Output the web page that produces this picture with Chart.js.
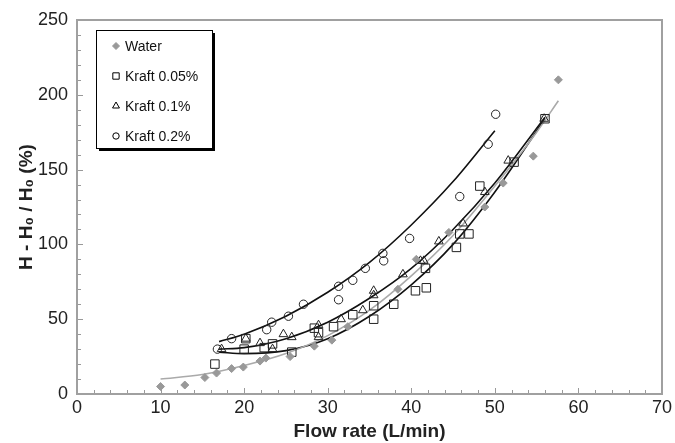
<!DOCTYPE html>
<html>
<head>
<meta charset="utf-8">
<script src="https://cdn.jsdelivr.net/npm/chart.js@4.4.0/dist/chart.umd.min.js"></script>
<style>
body{margin:0;background:#fff}
canvas{display:block}
</style>
</head>
<body>
<canvas id="myChart" width="675" height="443"></canvas>
<script>
// measured points
const flowWater = [10, 12.9, 15.3, 16.7, 18.5, 19.9, 21.9, 22.6, 25.5, 28.4, 30.5, 32.4, 38.4, 40.6, 44.5, 48.8, 51, 54.6, 57.6]
const headWater = [5, 6, 11, 14, 17, 18, 22, 24, 25, 32, 36, 45, 70, 90, 108, 125, 141, 159, 210]

const flow005 = [16.5, 20, 20.2, 22.4, 23.4, 25.7, 28.4, 28.9, 30.7, 33, 35.5, 35.5, 37.9, 40.5, 41.8, 41.7, 45.4, 45.8, 46.9, 48.2, 52.3, 56]
const head005 = [20, 30, 37, 31, 33.5, 28, 44, 41, 45, 53, 59, 50, 60, 69, 71, 84, 98, 107, 107, 139, 155, 184]

const flow01 = [17.3, 20.2, 21.9, 23.4, 24.7, 25.7, 28.9, 28.9, 31.6, 34.2, 35.5, 35.5, 39, 41.1, 41.5, 43.3, 46.2, 48.8, 51.6, 55.9]
const head01 = [30, 37, 34, 30, 40, 38, 46, 38, 50, 56, 69, 66, 80, 89, 89, 102, 114, 135, 156, 184]

const flow02 = [16.8, 18.5, 22.7, 23.3, 25.3, 27.1, 31.3, 31.3, 33, 34.5, 36.6, 36.7, 39.8, 45.8, 49.2, 50.1]
const head02 = [30, 37, 43, 48, 52, 60, 72, 63, 76, 84, 94, 89, 104, 132, 167, 187]

// trend curves
const trendXWater = [10, 15, 20, 25, 30, 35, 40, 45, 50, 55, 57.6]
const trendYWater = [10, 13, 19, 27, 39, 56, 79, 106, 139, 175, 196]
const trendX005 = [17, 20, 25, 30, 35, 40, 45, 50, 56]
const trendY005 = [28, 27, 29, 37, 52, 73, 100, 135, 184]
const trendX01 = [17, 20, 25, 30, 35, 40, 45, 50, 56]
const trendY01 = [30, 31, 37, 48, 64, 84, 110, 141, 185]
const trendX02 = [17, 20, 25, 30, 35, 40, 45, 50]
const trendY02 = [35, 40, 52, 68, 88, 113, 142, 176]

const legendLabels = ['Water', 'Kraft 0.05%', 'Kraft 0.1%', 'Kraft 0.2%']
const xTicks = [0, 10, 20, 30, 40, 50, 60, 70]
const yTicks = [0, 50, 100, 150, 200, 250]

const pts = (xs, ys) => xs.map((x, i) => ({x: x, y: ys[i]}))

function markerSet(label, xs, ys, style, radius, fill, stroke){
    return {
        type: 'scatter', label: label, data: pts(xs, ys),
        pointStyle: style, pointRadius: radius, pointHoverRadius: radius,
        backgroundColor: fill, borderColor: stroke, borderWidth: 1, order: 1
    }
}
function trendSet(xs, ys, color){
    return {
        type: 'line', data: pts(xs, ys), borderColor: color, borderWidth: 1.6,
        pointRadius: 0, fill: false, cubicInterpolationMode: 'monotone', order: 2
    }
}

// minor ticks, frame, boxed legend
const decor = {
    id: 'decor',
    afterDraw(chart){
        const ctx = chart.ctx, a = chart.chartArea
        const xs = chart.scales.x, ys = chart.scales.y
        ctx.save()
        ctx.strokeStyle = '#999'
        ctx.lineWidth = 1
        for (let v = 2; v < 70; v += 2) {
            const px = Math.round(xs.getPixelForValue(v)) + 0.5
            ctx.beginPath(); ctx.moveTo(px, a.bottom); ctx.lineTo(px, a.bottom - (v % 10 ? 4 : 6)); ctx.stroke()
        }
        for (let v = 10; v < 250; v += 10) {
            const py = Math.round(ys.getPixelForValue(v)) + 0.5
            ctx.beginPath(); ctx.moveTo(a.left, py); ctx.lineTo(a.left + (v % 50 ? 4 : 6), py); ctx.stroke()
        }
        ctx.strokeStyle = '#a0a0a0'
        ctx.lineWidth = 2
        ctx.strokeRect(a.left, a.top, a.right - a.left, a.bottom - a.top)

        // legend box with shadow
        const bx = 96, by = 30, bw = 116, bh = 118
        ctx.fillStyle = '#000'
        ctx.fillRect(bx + 3, by + 3, bw, bh)
        ctx.fillStyle = '#fff'
        ctx.fillRect(bx, by, bw, bh)
        ctx.strokeStyle = '#000'
        ctx.lineWidth = 1
        ctx.strokeRect(bx + 0.5, by + 0.5, bw, bh)
        const styles = [['rectRot', 3.5, '#999', '#999'], ['rect', 4.5, '#fff', '#000'], ['triangle', 4, '#fff', '#000'], ['circle', 3.2, '#fff', '#000']]
        ctx.font = '14px "Liberation Sans", Arial, sans-serif'
        ctx.textBaseline = 'middle'
        legendLabels.forEach((t, i) => {
            const y = 46 + i * 30
            const s = styles[i]
            ctx.fillStyle = s[2]; ctx.strokeStyle = s[3]; ctx.lineWidth = 1
            Chart.helpers.drawPoint(ctx, {pointStyle: s[0], radius: s[1], borderWidth: 1}, 116, y)
            ctx.fillStyle = '#111'
            ctx.fillText(t, 125, y + 1)
        })
        ctx.restore()
    }
}

const tickFont = {family: '"Liberation Sans", Arial, sans-serif', size: 18}
const titleFont = {family: '"Liberation Sans", Arial, sans-serif', size: 19, weight: 'bold'}

chart = new Chart(document.getElementById('myChart'), {
    type: 'scatter',
    data: {
        datasets: [
            markerSet(legendLabels[0], flowWater, headWater, 'rectRot', 4, '#999', '#999'),
            markerSet(legendLabels[1], flow005, head005, 'rect', 6, 'rgba(0,0,0,0)', '#222'),
            markerSet(legendLabels[2], flow01, head01, 'triangle', 5, 'rgba(0,0,0,0)', '#222'),
            markerSet(legendLabels[3], flow02, head02, 'circle', 4.2, 'rgba(0,0,0,0)', '#222'),
            trendSet(trendXWater, trendYWater, '#aaa'),
            trendSet(trendX005, trendY005, '#111'),
            trendSet(trendX01, trendY01, '#111'),
            trendSet(trendX02, trendY02, '#111')
        ]
    },
    options: {
        responsive: false,
        animation: false,
        layout: {padding: {left: 0, right: 13, top: 20, bottom: 0}},
        plugins: {legend: {display: false}, tooltip: {enabled: false}},
        scales: {
            x: {
                type: 'linear', min: 0, max: 70,
                afterBuildTicks: s => { s.ticks = xTicks.map(v => ({value: v})) },
                afterFit: s => { s.height = 49 },
                grid: {display: false, drawTicks: false},
                border: {display: false},
                ticks: {font: tickFont, color: '#222', padding: 3, maxRotation: 0},
                title: {display: true, text: 'Flow rate (L/min)', font: titleFont, color: '#222', padding: {top: 0, bottom: 0}}
            },
            y: {
                type: 'linear', min: 0, max: 250,
                afterBuildTicks: s => { s.ticks = yTicks.map(v => ({value: v})) },
                afterFit: s => { s.width = 77 },
                grid: {display: false, drawTicks: false},
                border: {display: false},
                ticks: {font: tickFont, color: '#222', padding: 9},
                title: {display: true, text: 'H - H\u2080 / H\u2080 (%)', font: titleFont, color: '#222', padding: {top: 15, bottom: 0}}
            }
        }
    },
    plugins: [decor]
})
</script>
</body>
</html>
